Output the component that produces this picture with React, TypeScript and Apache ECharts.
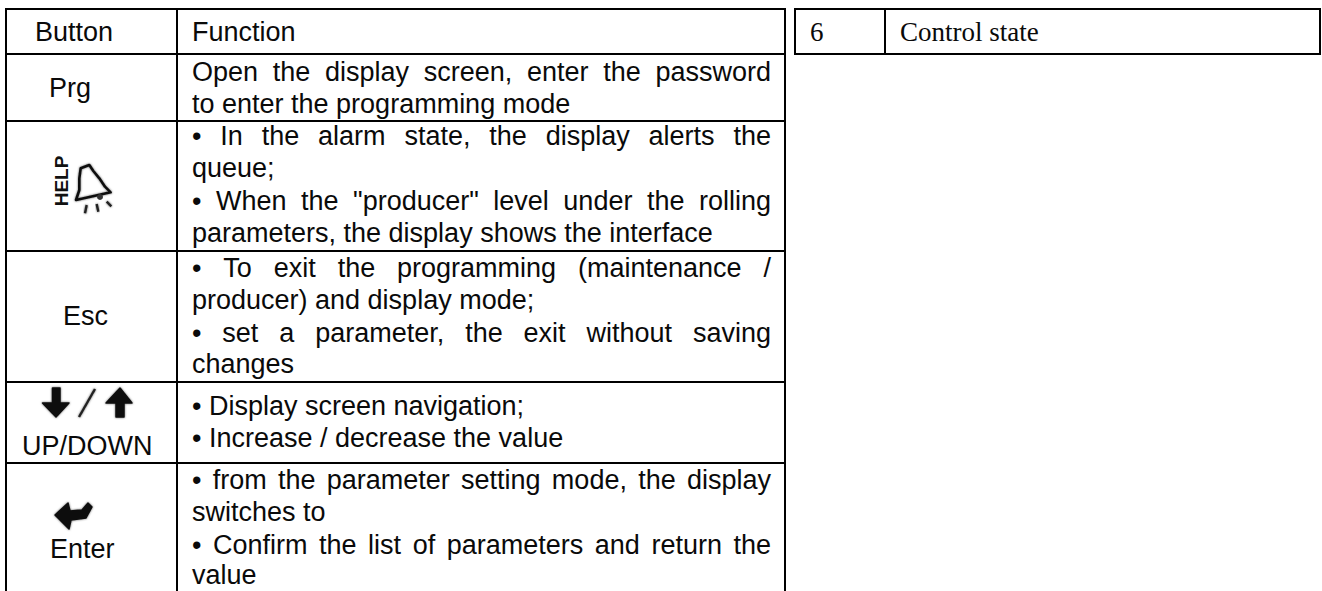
import React, { useEffect, useRef } from "react";
import * as echarts from "echarts";

const headerLeft = ["Button", "Function"];
const buttonLabels = ["Prg", "Esc", "UP/DOWN", "Enter"];
const functionLines = [
  "Open the display screen, enter the password",
  "to enter the programming mode",
  "• In the alarm state, the display alerts the",
  "queue;",
  '• When the "producer" level under the rolling',
  "parameters, the display shows the interface",
  "• To exit the programming (maintenance /",
  "producer) and display mode;",
  "• set a parameter, the exit without saving",
  "changes",
  "• Display screen navigation;",
  "• Increase / decrease the value",
  "• from the parameter setting mode, the display",
  "switches to",
  "• Confirm the list of parameters and return the",
  "value",
];
const justifiedLine = [1, 0, 1, 0, 1, 0, 1, 0, 1, 0, 0, 0, 1, 0, 1, 0];
const sideRow = ["6", "Control state"];

// layout
const lineBaselines = [81, 113, 145, 177, 210, 242, 277, 309, 342, 373, 415, 447, 489, 521, 554, 584];
const buttonPos = [[49, 97], [63, 325], [22, 455], [50, 558]];
const hLinesLeft = [9, 54, 121, 251, 382, 463];
const vLinesLeft = [6, 177, 785];
const PAGE_W = 1322;
const PAGE_H = 591;
const FS = 27;
const SANS = "Liberation Sans";
const SERIF = "Liberation Serif";
const TEXT_L = 192;
const TEXT_R = 771;
const MID = 0.35;

function App() {
  const ref = useRef<HTMLDivElement>(null);
  useEffect(() => {
    const chart = echarts.init(ref.current!, undefined, { renderer: "svg" });
    const ctx = document.createElement("canvas").getContext("2d")!;
    ctx.font = `${FS}px "${SANS}"`;
    const els: any[] = [];
    const text = (t: string, x: number, base: number, font = SANS, size = FS) =>
      els.push({
        type: "text",
        silent: true,
        x,
        y: base - size * MID,
        style: { text: t, fill: "#0a0a0a", font: `${size}px "${font}"`, align: "left", verticalAlign: "middle" },
      });
    const line = (x1: number, y1: number, x2: number, y2: number, w = 2) =>
      els.push({
        type: "line",
        silent: true,
        shape: { x1, y1, x2, y2 },
        style: { stroke: "#000", lineWidth: w, lineCap: "square" },
      });

    vLinesLeft.forEach((x) => line(x, hLinesLeft[0], x, PAGE_H));
    hLinesLeft.forEach((y) => line(vLinesLeft[0], y, vLinesLeft[2], y));
    line(795, 9, 1320, 9);
    line(795, 54, 1320, 54);
    line(795, 9, 795, 54);
    line(885, 9, 885, 54);
    line(1320, 9, 1320, 54);

    text(headerLeft[0], 35, 41.5);
    text(headerLeft[1], 192, 41.5);
    buttonLabels.forEach((b, i) => text(b, buttonPos[i][0], buttonPos[i][1]));
    text(sideRow[0], 810, 41.5, SERIF, 27);
    text(sideRow[1], 900, 41.5, SERIF, 27);

    functionLines.forEach((l, i) => {
      const base = lineBaselines[i];
      if (!justifiedLine[i]) {
        text(l, TEXT_L, base);
        return;
      }
      const words = l.split(" ");
      const widths = words.map((w) => ctx.measureText(w).width);
      const total = widths.reduce((a, b) => a + b, 0);
      const gap = (TEXT_R - TEXT_L - total) / (words.length - 1);
      let x = TEXT_L;
      words.forEach((w, k) => {
        text(w, x, base);
        x += widths[k] + gap;
      });
    });

    const blur = { shadowBlur: 2, shadowColor: "rgba(0,0,0,0.6)" };
    // HELP + bell icon
    els.push({
      type: "text",
      silent: true,
      x: 61,
      y: 181,
      rotation: Math.PI / 2,
      style: { text: "HELP", fill: "#111", font: `bold 19px "${SANS}"`, align: "center", verticalAlign: "middle" },
    });
    const bx = (z: number) => 40 + z / 3;
    const by = (z: number) => 145 + z / 3;
    const bell = [[122, 70], [148, 60], [160, 78], [178, 100], [195, 125], [212, 142], [108, 165], [118, 135], [118, 100]];
    els.push({
      type: "polygon",
      silent: true,
      shape: { points: bell.map(([a, b]) => [bx(a), by(b)]) },
      style: { fill: "none", stroke: "#111", lineWidth: 2.6, lineJoin: "round", ...blur },
    });
    els.push({ type: "circle", silent: true, shape: { cx: bx(180), cy: by(156), r: 3 }, style: { fill: "#333" } });
    [[140, 180, 135, 205], [170, 177, 175, 200], [200, 170, 214, 184]].forEach(([a, b, c, d]) =>
      els.push({
        type: "line",
        silent: true,
        shape: { x1: bx(a), y1: by(b), x2: bx(c), y2: by(d) },
        style: { stroke: "#222", lineWidth: 2.4, ...blur },
      })
    );
    // arrows
    const poly = (pts: number[][]) =>
      els.push({
        type: "polygon",
        silent: true,
        shape: { points: pts },
        style: { fill: "#111", stroke: "#111", lineWidth: 1.5, lineJoin: "round", ...blur },
      });
    poly([[52.5, 388], [60, 388], [60, 403], [69, 403], [56, 417], [42.5, 403], [52.5, 403]]);
    poly([[120, 388], [132, 403], [124, 403], [124, 417], [116, 417], [116, 403], [106, 403]]);
    els.push({
      type: "line",
      silent: true,
      shape: { x1: 79, y1: 417, x2: 95, y2: 389 },
      style: { stroke: "#222", lineWidth: 2.4, ...blur },
    });
    poly([[55, 515], [68, 503], [70, 511], [82, 510], [88, 503], [92, 507], [86, 518], [71, 520], [69, 529]]);

    chart.setOption({ animation: false, backgroundColor: "#fff", graphic: { elements: els } });
    return () => chart.dispose();
  }, []);
  return (
    <div
      ref={ref}
      style={{ position: "fixed", left: 0, top: 0, width: PAGE_W, height: PAGE_H, overflow: "hidden" }}
    />
  );
}

export default App;
